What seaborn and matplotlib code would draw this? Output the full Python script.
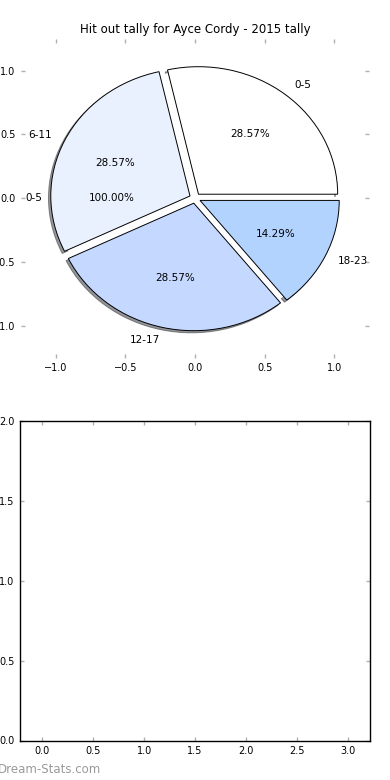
import matplotlib
matplotlib.use("Agg")
import matplotlib.pyplot as plt
import seaborn as sns

# Data
labels = ['0-5', '6-11', '12-17', '18-23']
tally = [2, 2, 2, 1]
colors = ['#ffffff', '#eaf1fe', '#c5d8ff', '#b3d3ff']

# leftover single-slice pie that sits underneath
base_labels = ['0-5']
base_tally = [1]

sns.set_style("white")
plt.rcParams['font.family'] = ['DejaVu Sans']
plt.rcParams['text.color'] = 'black'
plt.rcParams['xtick.direction'] = 'in'
plt.rcParams['ytick.direction'] = 'in'
plt.rcParams['xtick.color'] = '#b0b0b0'
plt.rcParams['ytick.color'] = '#b0b0b0'
plt.rcParams['xtick.labelcolor'] = 'black'
plt.rcParams['ytick.labelcolor'] = 'black'
plt.rcParams['xtick.top'] = True
plt.rcParams['ytick.right'] = True
plt.rcParams['xtick.bottom'] = True
plt.rcParams['ytick.left'] = True

fig = plt.figure(figsize=(3.9, 7.8), dpi=100)

# Top: pie chart
ax1 = fig.add_axes([21/390, (780 - 357.6)/780, 348/390, 318.8/780])
ax1.pie(base_tally, labels=base_labels, autopct='%.2f%%', colors=['white'],
        wedgeprops={'linewidth': 0}, textprops={'fontsize': 7.5, 'color': 'black'},
        frame=True)
ax1.pie(tally, labels=labels, autopct='%.2f%%', colors=colors,
        explode=[0.04] * len(tally),
        shadow={'ox': -0.012, 'oy': -0.012, 'shade': 0.8},
        wedgeprops={'linewidth': 0.7, 'edgecolor': 'black'},
        textprops={'fontsize': 7.5, 'color': 'black'}, frame=True)
ax1.set_aspect('auto')
ax1.set_xlim(-1.25, 1.25)
ax1.set_ylim(-1.25, 1.25)
ax1.set_xticks([-1.0, -0.5, 0.0, 0.5, 1.0])
ax1.set_yticks([-1.0, -0.5, 0.0, 0.5, 1.0])
ax1.tick_params(labelsize=7, length=3, width=1, pad=4)
for s in ax1.spines.values():
    s.set_visible(False)
ax1.set_title('Hit out tally for Ayce Cordy - 2015 tally', fontsize=8.5, pad=4)

# Bottom: empty axes
ax2 = fig.add_axes([20/390, (780 - 740.5)/780, 350/390, 319.5/780])
ax2.set_xlim(-0.22, 3.22)
ax2.set_ylim(0, 2.0)
ax2.set_xticks([0.0, 0.5, 1.0, 1.5, 2.0, 2.5, 3.0])
ax2.set_yticks([0.0, 0.5, 1.0, 1.5, 2.0])
ax2.set_xticklabels(['0.0', '0.5', '1.0', '1.5', '2.0', '2.5', '3.0'])
ax2.set_yticklabels(['0.0', '0.5', '1.0', '1.5', '2.0'])
ax2.tick_params(labelsize=7, length=3, width=1, pad=4)
for s in ax2.spines.values():
    s.set_visible(True)
    s.set_color('black')
    s.set_linewidth(1)

fig.text(-0.005, 0.009, 'Dream-Stats.com', color='#9a9a9a', fontsize=8.5)

fig.savefig('out.png', dpi=100)
